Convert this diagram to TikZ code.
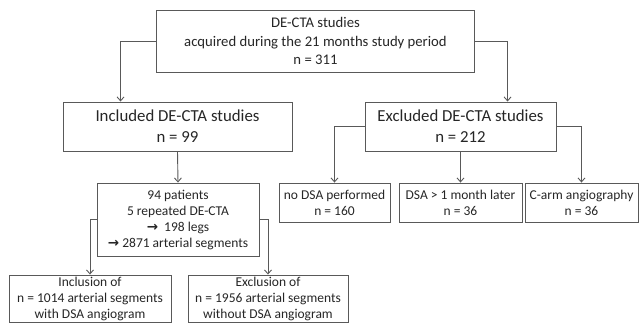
\documentclass[tikz,border=0pt]{standalone}
\usepackage{fontspec}
\setmainfont{Carlito}
\newfontfamily\arrfont{DejaVu Sans}
\usepackage{tikz}
\usetikzlibrary{arrows.meta}

\definecolor{linegray}{HTML}{595959}
\definecolor{textgray}{HTML}{262626}

\begin{document}
\begin{tikzpicture}[x=1pt,y=-1pt]
	\useasboundingbox (0,0) rectangle (640,331);
	\begin{scope}[every node/.style={draw=linegray,line width=0.9pt,text=textgray,
	              align=center,inner sep=0pt,fill=white}]
		\node[minimum width=318pt,minimum height=62pt,font=\fontsize{14.7}{18.5}\selectfont]
			(all) at (315.5,41) {DE-CTA studies\\acquired during the 21 months study period\\n = 311};
		\node[minimum width=229pt,minimum height=49pt,font=\fontsize{16.8}{21}\selectfont]
			(incl) at (177.5,126.5) {Included DE-CTA studies\\n = 99};
		\node[minimum width=191pt,minimum height=49pt,font=\fontsize{16.8}{21}\selectfont]
			(excl) at (460.5,126.5) {Excluded DE-CTA studies\\n = 212};
		\node[minimum width=162pt,minimum height=73pt,font=\fontsize{13.5}{16}\selectfont]
			(pat) at (178,219.5) {94 patients\\5 repeated DE-CTA\\{\arrfont\bfseries →}\ \ 198 legs\\{\arrfont\bfseries →}\ 2871 arterial segments};
		\node[minimum width=111pt,minimum height=39pt,font=\fontsize{13.5}{16}\selectfont]
			(nodsa) at (334.5,202.5) {no DSA performed\\n = 160};
		\node[minimum width=123pt,minimum height=39pt,font=\fontsize{13.5}{16}\selectfont]
			(later) at (460.5,202.5) {DSA > 1 month later\\n = 36};
		\node[minimum width=113pt,minimum height=39pt,font=\fontsize{13.5}{16}\selectfont]
			(carm) at (581.5,202.5) {C-arm angiography\\n = 36};
		\node[minimum width=162pt,minimum height=47pt,font=\fontsize{13.5}{16}\selectfont]
			(segin) at (90,298.5) {Inclusion of\\n = 1014 arterial segments\\with DSA angiogram};
		\node[minimum width=160pt,minimum height=47pt,font=\fontsize{13.5}{16}\selectfont]
			(segout) at (268,298.5) {Exclusion of\\n = 1956 arterial segments\\without DSA angiogram};
	\end{scope}

	\begin{scope}[every path/.style={draw=linegray,line width=0.9pt,
	              -{Straight Barb[length=4pt,width=7pt]}}]
		\draw (all.west) -| ([xshift=58pt]incl.north west);
		\draw (all.east) -| ([xshift=143pt]excl.north west);
		\draw (incl.south) -- (pat.north);
		\draw (excl.west) -| (nodsa.north);
		\draw (excl.south) -- (later.north);
		\draw (excl.east) -| (carm.north);
		\draw (pat.west) -| (segin.north);
		\draw (pat.east) -| (segout.north);
	\end{scope}
\end{tikzpicture}
\end{document}
